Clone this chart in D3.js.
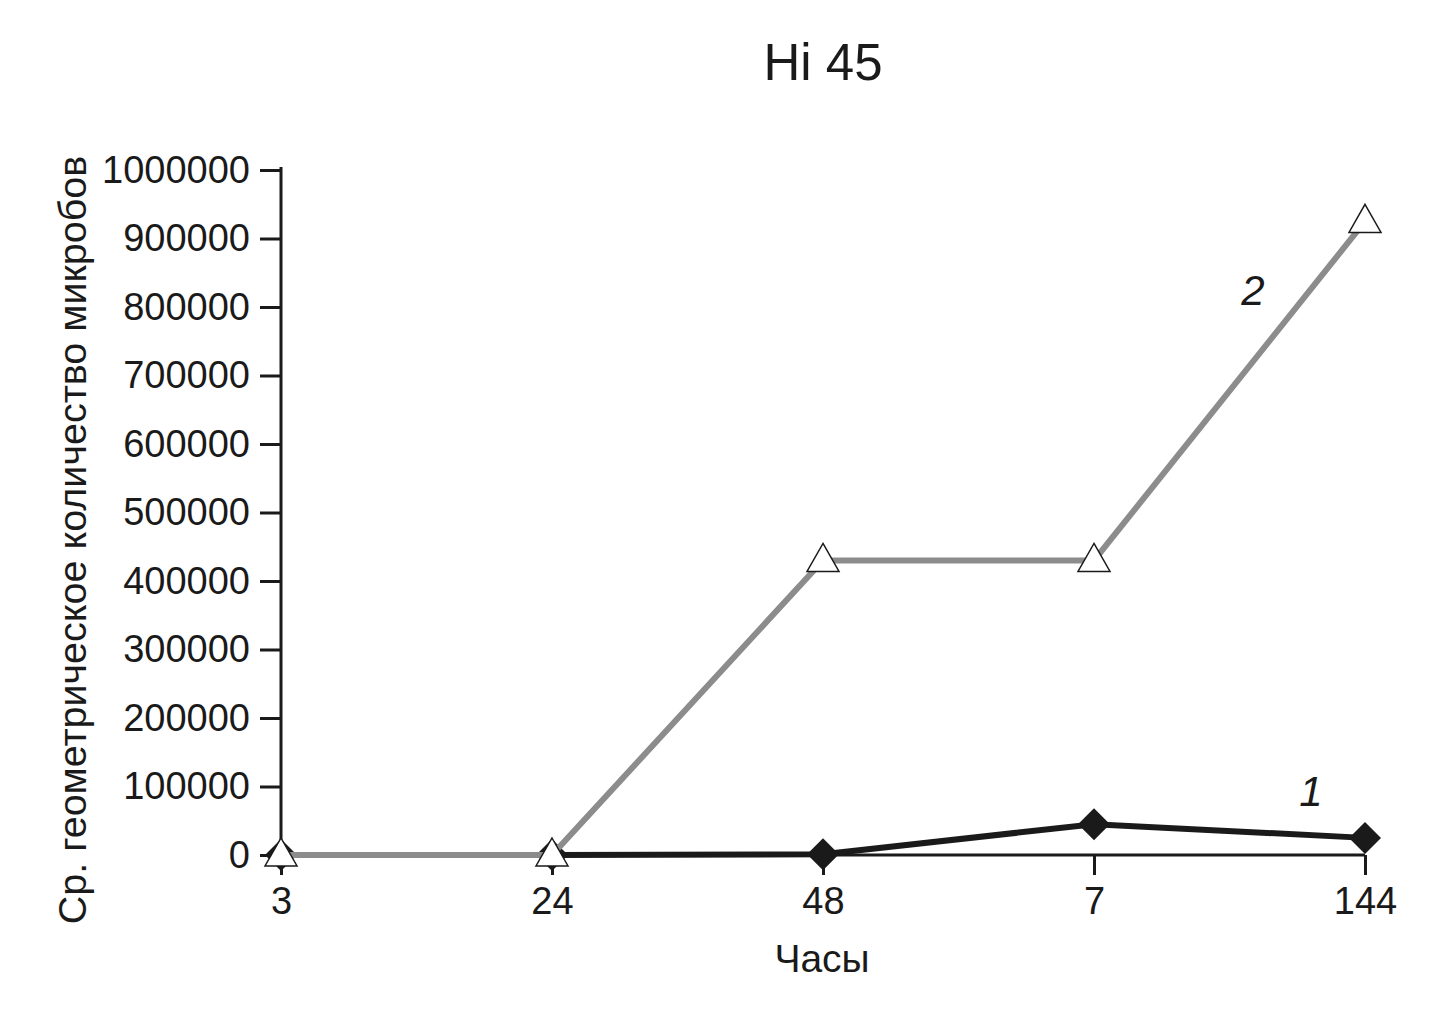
<!DOCTYPE html>
<html>
<head>
<meta charset="utf-8">
<script src="https://cdn.jsdelivr.net/npm/d3@7"></script>
<style>
  body { margin: 0; background: #fff; }
  svg text { font-family: "Liberation Sans", Arial, sans-serif; fill: #1a1a1a; }
</style>
</head>
<body>
<script>
// data
const hours = ['3', '24', '48', '7', '144'];
const series1 = [0, 0, 1000, 45000, 25000];     // black, diamonds
const series2 = [0, 0, 430000, 430000, 925000]; // grey, triangles
const yTicks = [0, 100000, 200000, 300000, 400000, 500000, 600000, 700000, 800000, 900000, 1000000];

const width = 1448, height = 1031;
const margin = {left: 281, right: 83, top: 170, bottom: 176};

const svg = d3.select('body').append('svg')
    .attr('width', width)
    .attr('height', height);

const x = d3.scalePoint()
    .domain(hours)
    .range([margin.left, width - margin.right]);

const y = d3.scaleLinear()
    .domain([0, 1000000])
    .range([height - margin.bottom, margin.top]);

// axes
const yAxis = svg.append('g')
    .attr('transform', `translate(${margin.left},0)`)
    .call(d3.axisLeft(y).tickValues(yTicks).tickFormat(d3.format('d')).tickSize(21).tickPadding(10));

const xAxis = svg.append('g')
    .attr('transform', `translate(0,${height - margin.bottom})`)
    .call(d3.axisBottom(x).tickSize(20).tickPadding(12));

[yAxis, xAxis].forEach(a => {
    a.select('.domain').attr('stroke', '#1a1a1a').attr('stroke-width', 3);
    a.selectAll('.tick line').attr('stroke', '#1a1a1a').attr('stroke-width', 3);
    a.selectAll('.tick text').attr('font-size', 38).attr('fill', '#1a1a1a')
        .style('font-family', '"Liberation Sans", Arial, sans-serif');
});
yAxis.select('.domain').attr('d', `M0,${y(1000000) - 3}V${y(0)}`);
xAxis.select('.domain').attr('d', `M${x('3')},0H${x('144')}`);

const line = d3.line().x((d, i) => x(hours[i])).y(d => y(d));

// series 1 (black)
svg.append('path')
    .datum(series1)
    .attr('fill', 'none')
    .attr('stroke', '#1a1a1a')
    .attr('stroke-width', 6)
    .attr('d', line);

svg.selectAll('path.diamond')
    .data(series1)
    .enter()
    .append('path')
    .attr('class', 'diamond')
    .attr('d', 'M0,-16L16,0L0,16L-16,0Z')
    .attr('fill', '#1a1a1a')
    .attr('transform', (d, i) => `translate(${x(hours[i])},${y(d)})`);

// series 2 (grey)
svg.append('path')
    .datum(series2)
    .attr('fill', 'none')
    .attr('stroke', '#8c8c8c')
    .attr('stroke-width', 6)
    .attr('d', line);

svg.selectAll('path.tri')
    .data(series2)
    .enter()
    .append('path')
    .attr('class', 'tri')
    .attr('d', 'M0,-17L16,11L-16,11Z')
    .attr('fill', '#fff')
    .attr('stroke', '#1a1a1a')
    .attr('stroke-width', 1.5)
    .attr('transform', (d, i) => `translate(${x(hours[i])},${y(d)})`);

// series labels
svg.append('text')
    .attr('x', 1253).attr('y', 305)
    .attr('text-anchor', 'middle')
    .attr('font-size', 42)
    .style('font-style', 'italic')
    .text('2');

svg.append('text')
    .attr('x', 1311).attr('y', 806)
    .attr('text-anchor', 'middle')
    .attr('font-size', 42)
    .style('font-style', 'italic')
    .text('1');

// titles
svg.append('text')
    .attr('x', 823).attr('y', 80)
    .attr('text-anchor', 'middle')
    .attr('font-size', 51)
    .text('Hi 45');

svg.append('text')
    .attr('x', 822).attr('y', 972)
    .attr('text-anchor', 'middle')
    .attr('font-size', 39)
    .text('Часы');

svg.append('text')
    .attr('transform', 'translate(86,540) rotate(-90)')
    .attr('text-anchor', 'middle')
    .attr('font-size', 39.5)
    .text('Ср. геометрическое количество микробов');
</script>
</body>
</html>
